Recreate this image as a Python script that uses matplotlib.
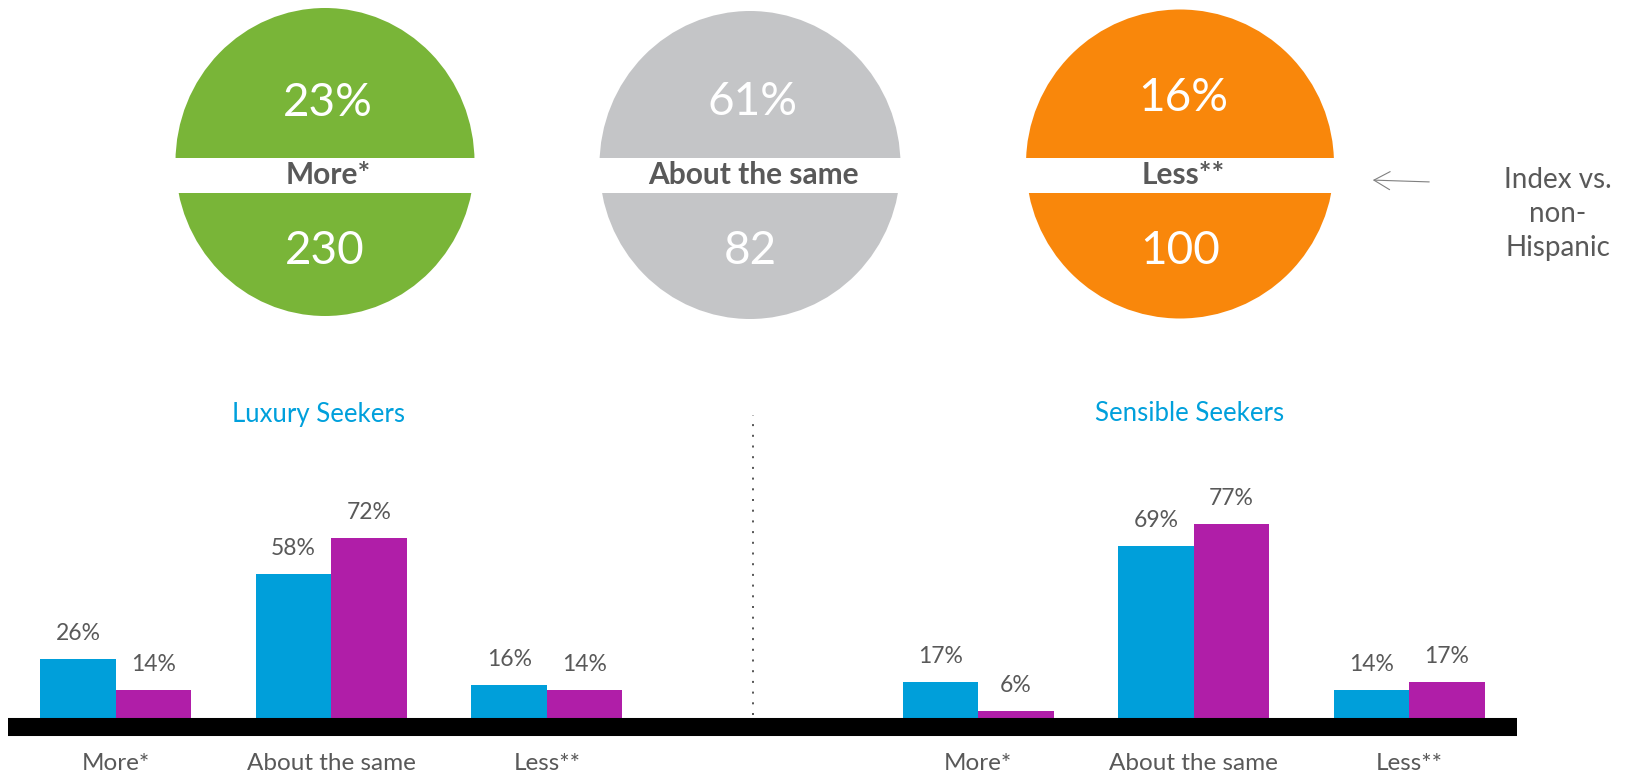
import matplotlib.pyplot as plt
from matplotlib.patches import Ellipse, Rectangle

# summary circles: share of respondents and index vs. non-Hispanic
circle_labels = ['More*', 'About the same', 'Less**']
circle_shares = ['23%', '61%', '16%']
circle_index = ['230', '82', '100']
circle_colors = ['#79B538', '#C4C5C7', '#F9870B']

# segment bars
categories = ['More*', 'About the same', 'Less**']
segments = ['Luxury Seekers', 'Sensible Seekers']
luxury_blue = [26, 58, 16]
luxury_purple = [14, 72, 14]
sensible_blue = [17, 69, 14]
sensible_purple = [6, 77, 17]

BLUE = '#009FDA'
PURPLE = '#B01EA8'
GREY = '#595959'

W, H = 1625, 775
plt.rcParams['font.family'] = ['Lato', 'DejaVu Sans']

fig = plt.figure(figsize=(W / 100, H / 100), dpi=100)
fig.patch.set_facecolor('white')

# overlay axes in pixel units for the circles and free text
top = fig.add_axes([0, 0, 1, 1])
top.set_xlim(0, W)
top.set_ylim(H, 0)
top.axis('off')

centers = [(325, 162), (750, 165), (1180, 164)]
sizes = [(299, 308), (301, 308), (308, 309)]
share_base = [116, 115, 111]
for (cx, cy), (w, h), col in zip(centers, sizes, circle_colors):
    top.add_patch(Ellipse((cx, cy), w, h, color=col, lw=0))
# white band cutting through the circles
top.add_patch(Rectangle((150, 158), 1200, 35, color='white', lw=0))

for (cx, cy), lab, share, idx, yb in zip(centers, circle_labels, circle_shares,
                                        circle_index, share_base):
    top.text(cx + 3, yb, share, color='white', fontsize=33,
             ha='center', va='baseline')
    top.text(cx, 264, idx, color='white', fontsize=33,
             ha='center', va='baseline')
    top.text(cx + 3, 184, lab, color=GREY, fontsize=21.5, fontweight='bold',
             ha='center', va='baseline')

top.annotate('', xy=(1370, 180), xytext=(1432, 182),
             arrowprops=dict(arrowstyle='->,head_length=1.15,head_width=0.65',
                             color='#808080', lw=0.8, mutation_scale=10))
top.text(1558, 214, 'Index vs.\nnon-\nHispanic', color=GREY, fontsize=20,
         ha='center', va='center', multialignment='center', linespacing=1.4)

top.text(319, 422, segments[0], color='#00A0DC', fontsize=18.5,
         ha='center', va='baseline')
top.text(1190, 421, segments[1], color='#00A0DC', fontsize=18.5,
         ha='center', va='baseline')

# bar chart: 7 slots, the middle one left empty as a separator
zero_y = 727
px_per_pct = 2.63
ymax = 120
ax = fig.add_axes([8 / W, (H - zero_y) / H, 1509 / W, ymax * px_per_pct / H])
ax.set_xlim(-0.5, 6.5)
ax.set_ylim(0, ymax)
ax.axis('off')
ax.patch.set_alpha(0)

xs_left = [0, 1, 2]
xs_right = [4, 5, 6]
bw = 0.35
for xs, blue, purple in [(xs_left, luxury_blue, luxury_purple),
                         (xs_right, sensible_blue, sensible_purple)]:
    b1 = ax.bar([x - bw / 2 for x in xs], blue, bw, color=BLUE, zorder=2)
    b2 = ax.bar([x + bw / 2 for x in xs], purple, bw, color=PURPLE, zorder=2)
    for bars, vals in [(b1, blue), (b2, purple)]:
        for rect, v in zip(bars, vals):
            ax.annotate(f'{v}%', (rect.get_x() + rect.get_width() / 2, v),
                        xytext=(0, 13.7), textcoords='offset points',
                        ha='center', va='baseline', fontsize=16.5, color=GREY)
    for x, cat in zip(xs, categories):
        ax.annotate(cat, (x, 0), xytext=(0, -31), textcoords='offset points',
                    ha='center', va='baseline', fontsize=17.5, color=GREY,
                    annotation_clip=False)

# thick baseline
ax.axhline(0, color='black', lw=13, solid_capstyle='butt', zorder=3,
           clip_on=False)
# dotted divider between the two segments
ax.plot([2.956, 2.956], [4.5, 118.5], color=GREY, lw=1.44,
        linestyle=(0, (1, 4.35)), zorder=1)

fig.savefig('out.png', dpi=100, facecolor='white')
